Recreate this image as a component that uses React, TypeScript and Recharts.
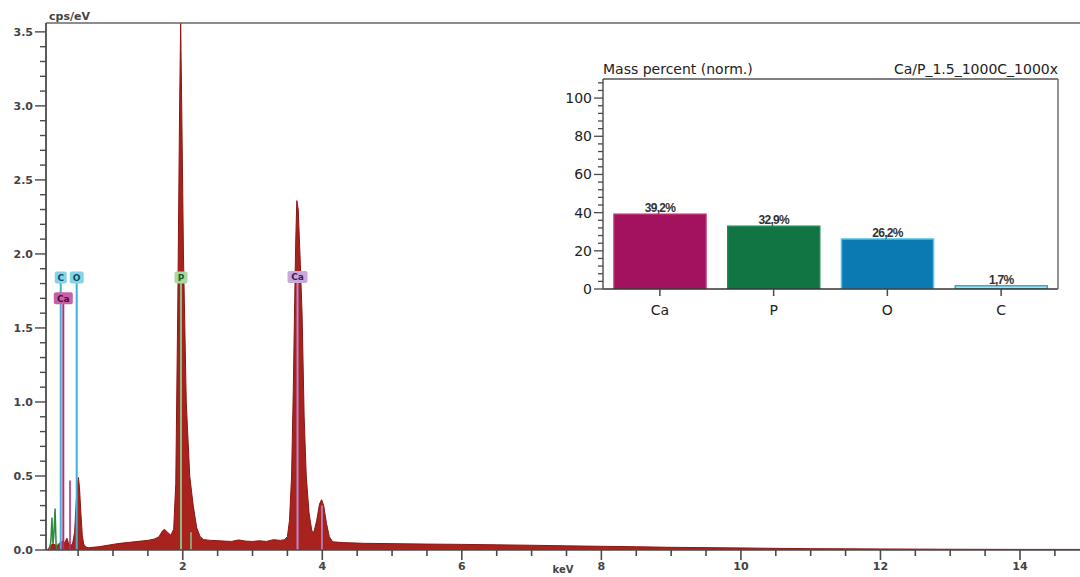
import React from 'react';
import {
  ComposedChart, Area, Line, XAxis, YAxis, ReferenceLine, ReferenceDot,
  BarChart, Bar, LabelList, Cell,
} from 'recharts';

// ---------- EDS spectrum ----------
const ENERGY_KEV = [
  0.05, 0.08, 0.1, 0.14, 0.2, 0.24, 0.28, 0.31, 0.34, 0.36, 0.39, 0.42, 0.45, 0.47, 0.49, 0.505, 0.52, 0.54, 0.56, 0.58,
  0.61, 0.65, 0.7, 0.8, 0.9, 1.0, 1.1, 1.2, 1.3, 1.4, 1.5, 1.6, 1.66, 1.71, 1.74, 1.78, 1.83, 1.87, 1.9, 1.93,
  1.955, 1.97, 1.985, 2.01, 2.05, 2.1, 2.15, 2.2, 2.25, 2.3, 2.4, 2.5, 2.6, 2.7, 2.8, 2.9, 3.0, 3.1, 3.2, 3.3,
  3.4, 3.46, 3.5, 3.53, 3.56, 3.585, 3.605, 3.62, 3.635, 3.655, 3.68, 3.71, 3.74, 3.77, 3.81, 3.85, 3.88, 3.92, 3.96, 3.99,
  4.02, 4.06, 4.1, 4.15, 4.3, 4.6, 5.0, 5.5, 6.0, 6.5, 7.0, 7.5, 8.0, 8.5, 9.0, 9.5, 10.0, 10.5, 11.0, 11.5,
  12.0, 13.0, 14.0, 14.86,
];
const CPS = [
  0, 0.01, 0.03, 0.04, 0.03, 0.05, 0.06, 0.05, 0.08, 0.05, 0.03, 0.04, 0.12, 0.3, 0.45, 0.49, 0.42, 0.25, 0.1, 0.04,
  0.02, 0.015, 0.018, 0.022, 0.03, 0.038, 0.045, 0.05, 0.055, 0.06, 0.065, 0.075, 0.09, 0.13, 0.14, 0.12, 0.1, 0.14, 0.45, 1.7,
  3.0, 3.56, 3.0, 2.0, 1.0, 0.5, 0.3, 0.15, 0.09, 0.07, 0.065, 0.063, 0.06, 0.058, 0.068, 0.06, 0.058, 0.062, 0.058, 0.07,
  0.065, 0.07, 0.09, 0.2, 0.5, 1.1, 1.7, 2.1, 2.36, 2.3, 2.0, 1.6, 0.9, 0.5, 0.25, 0.13, 0.12, 0.2, 0.31, 0.34,
  0.3, 0.18, 0.09, 0.055, 0.05, 0.045, 0.043, 0.04, 0.038, 0.035, 0.032, 0.028, 0.025, 0.022, 0.018, 0.016, 0.014, 0.011, 0.009, 0.008,
  0.007, 0.005, 0.004, 0.004,
];
// low-energy noise spikes (drawn green)
const NOISE_KEV = [0.09, 0.11, 0.125, 0.14, 0.155, 0.17, 0.185, 0.2];
const NOISE_CPS = [0, 0.06, 0.22, 0.04, 0.12, 0.28, 0.03, 0];

// element line markers
const MARKER_LABELS = ['C', 'Ca', 'O', 'P', 'Ca'];
const MARKER_KEV = [0.251, 0.288, 0.48, 1.975, 3.645];
const MARKER_TOP = [1.84, 1.7, 1.84, 1.84, 1.845];
const MARKER_LINE = ['#3fb3d4', '#b0307f', '#3fb3d4', '#86bf86', '#b58ad0'];
const MARKER_BG = ['#86d3e8', '#c860a8', '#86d3e8', '#a9d8a4', '#c9a8dc'];
const MARKER_FG = ['#0d4a60', '#4a0d38', '#0d4a60', '#1d5a1d', '#3a1a55'];
const MARKER_W = [12, 19, 14, 13, 20];
// secondary short lines
const SUB_KEV = [0.384, 2.118, 3.995];
const SUB_TOP = [0.47, 0.12, 0.3];
const SUB_COLOR = ['#b0307f', '#86bf86', '#b58ad0'];

const X_TICKS = [0.5, 1, 1.5, 2, 2.5, 3, 3.5, 4, 4.5, 5, 5.5, 6, 6.5, 7, 7.5, 8, 8.5, 9, 9.5, 10, 10.5, 11, 11.5, 12, 12.5, 13, 13.5, 14, 14.5];
const Y_TICKS = [0, 0.1, 0.2, 0.3, 0.4, 0.5, 0.6, 0.7, 0.8, 0.9, 1.0, 1.1, 1.2, 1.3, 1.4, 1.5, 1.6, 1.7, 1.8, 1.9, 2.0, 2.1, 2.2, 2.3, 2.4, 2.5, 2.6, 2.7, 2.8, 2.9, 3.0, 3.1, 3.2, 3.3, 3.4, 3.5];
const Y_MAX = 3.56;

// ---------- Inset: mass percent ----------
const ELEMENTS = ['Ca', 'P', 'O', 'C'];
const MASS_PERCENT = [39.2, 32.9, 26.2, 1.7];
const BAR_FILL = ['#a3125c', '#107542', '#0b79b2', '#a8e2f0'];
const BAR_STROKE = ['#b8306f', '#1f8a52', '#4cc2e8', '#3aa8d0'];
const INSET_Y_TICKS = [0, 4, 8, 12, 16, 20, 24, 28, 32, 36, 40, 44, 48, 52, 56, 60, 64, 68, 72, 76, 80, 84, 88, 92, 96, 100, 104, 108];
const INSET_MAX = 110;
const INSET_TITLE = 'Mass percent (norm.)';
const INSET_SAMPLE = 'Ca/P_1.5_1000C_1000x';

const spectrum = ENERGY_KEV.map((e, i) => ({ e, cps: CPS[i] }));
const noise = NOISE_KEV.map((e, i) => ({ e, n: NOISE_CPS[i] }));
const massData = ELEMENTS.map((el, i) => ({ el, v: MASS_PERCENT[i] }));

const AX = '#4a4a4a';
const FONT = 'DejaVu Sans';

const XTick = (props: any) => {
  const { x, y, payload } = props;
  const v = payload.value;
  const major = Math.abs(v % 2) < 1e-9;
  return (
    <g>
      <line x1={x} x2={x} y1={y} y2={y + (major ? 10 : 6)} stroke={AX} strokeWidth={1.6} />
      {major && (
        <text x={x} y={y + 20} textAnchor="middle" fontSize={11} fontWeight="bold" fill="#444" fontFamily={FONT}>
          {v}
        </text>
      )}
    </g>
  );
};

const YTick = (props: any) => {
  const { x, y, payload } = props;
  const v = payload.value;
  const major = Math.abs(Math.round(v * 10) % 5) === 0;
  return (
    <g>
      <line x1={x - (major ? 11 : 6)} x2={x} y1={y} y2={y} stroke={AX} strokeWidth={1.4} />
      {major && (
        <text x={x - 13} y={y + 4} textAnchor="end" fontSize={11} fontWeight="bold" fill="#444" fontFamily={FONT}>
          {v.toFixed(1)}
        </text>
      )}
    </g>
  );
};

const InsetYTick = (props: any) => {
  const { x, y, payload } = props;
  const v = payload.value;
  const major = v % 20 === 0;
  return (
    <g>
      <line x1={x - (major ? 9 : 5)} x2={x} y1={y} y2={y} stroke={AX} strokeWidth={1.3} />
      {major && (
        <text x={x - 11} y={y + 5} textAnchor="end" fontSize={14} fill="#222" fontFamily={FONT}>
          {v}
        </text>
      )}
    </g>
  );
};

const InsetXTick = (props: any) => {
  const { x, y, payload } = props;
  return (
    <g>
      <line x1={x} x2={x} y1={y} y2={y + 7} stroke={AX} strokeWidth={1.5} />
      <text x={x} y={y + 26} textAnchor="middle" fontSize={14} fill="#222" fontFamily={FONT}>
        {payload.value}
      </text>
    </g>
  );
};

const makeTag = (label: string, bg: string, fg: string, w: number) => (props: any) => {
  const { cx, cy } = props;
  return (
    <g>
      <rect x={cx - w / 2} y={cy - 6} width={w} height={12} rx={2} fill={bg} />
      <text x={cx} y={cy + 3.5} textAnchor="middle" fontSize={9} fontWeight="bold" fill={fg} fontFamily={FONT}>
        {label}
      </text>
    </g>
  );
};

const BarValueLabel = (props: any) => {
  const { x, y, width, value } = props;
  const txt = Number(value).toFixed(1).replace('.', ',') + '%';
  return (
    <text x={x + width / 2} y={y - 2} textAnchor="middle" fontSize={12} fontWeight="bold" fill="#333"
      fontFamily="Liberation Sans" letterSpacing={-0.7}>
      {txt}
    </text>
  );
};

const TitleLabel = (props: any) => {
  const vb = props.viewBox || { x: 43, y: 24, width: 455, height: 210 };
  return (
    <g>
      <text x={vb.x} y={vb.y - 5} fontSize={14} fill="#222" fontFamily={FONT}>{INSET_TITLE}</text>
      <text x={vb.x + vb.width} y={vb.y - 5} textAnchor="end" fontSize={14} fill="#222" fontFamily={FONT}>
        {INSET_SAMPLE}
      </text>
    </g>
  );
};

const UnitLabel = (props: any) => {
  const vb = props.viewBox || { x: 46, y: 23 };
  return (
    <text x={vb.x + 3} y={vb.y - 3} fontSize={11} fontWeight="bold" fill="#444" fontFamily={FONT}>
      cps/eV
    </text>
  );
};

export default function App() {
  return (
    <div style={{ position: 'absolute', left: 0, top: 0, width: 1080, height: 577, background: '#fff' }}>
      <div style={{ position: 'absolute', left: 0, top: 0 }}>
        <ComposedChart width={1080} height={577} data={spectrum} margin={{ top: 23, right: 0, bottom: 0, left: 0 }}>
          <XAxis
            dataKey="e" type="number" domain={[0.04, 14.86]} allowDataOverflow ticks={X_TICKS} interval={0}
            height={27} tickSize={0} tickMargin={0} tickLine={false} tick={<XTick />}
            axisLine={{ stroke: AX, strokeWidth: 1.6 }}
            label={{ value: 'keV', position: 'insideBottom', offset: 4, fontSize: 10, fontWeight: 'bold', fill: '#444', fontFamily: FONT }}
          />
          <YAxis
            type="number" domain={[0, Y_MAX]} allowDataOverflow ticks={Y_TICKS} interval={0} width={46}
            tickSize={0} tickMargin={0} tickLine={false} tick={<YTick />}
            axisLine={{ stroke: AX, strokeWidth: 1.8 }}
          />
          <ReferenceLine y={Y_MAX} stroke="#666" strokeWidth={1.4} label={<UnitLabel />} />
          <Area dataKey="cps" type="linear" fill="#a8221e" fillOpacity={1} stroke="#8c1612" strokeWidth={1}
            isAnimationActive={false} dot={false} activeDot={false} />
          <Line data={noise} dataKey="n" type="linear" stroke="#2e8a3e" strokeWidth={1.5}
            isAnimationActive={false} dot={false} activeDot={false} />
          {SUB_KEV.map((k, i) => (
            <ReferenceLine key={'s' + i} segment={[{ x: k, y: 0 }, { x: k, y: SUB_TOP[i] }]}
              stroke={SUB_COLOR[i]} strokeWidth={1.6} />
          ))}
          {MARKER_KEV.map((k, i) => (
            <ReferenceLine key={'m' + i} segment={[{ x: k, y: 0 }, { x: k, y: MARKER_TOP[i] }]}
              stroke={MARKER_LINE[i]} strokeWidth={2} />
          ))}
          {MARKER_KEV.map((k, i) => (
            <ReferenceDot key={'t' + i} x={k} y={MARKER_TOP[i]} r={0}
              shape={makeTag(MARKER_LABELS[i], MARKER_BG[i], MARKER_FG[i], MARKER_W[i])} />
          ))}
        </ComposedChart>
      </div>

      <div style={{ position: 'absolute', left: 560, top: 55 }}>
        <BarChart width={505} height={265} data={massData} margin={{ top: 24, right: 6, bottom: 0, left: 0 }}>
          <XAxis dataKey="el" height={31} tickSize={0} tickMargin={0} tickLine={false} tick={<InsetXTick />}
            interval={0} axisLine={{ stroke: '#333', strokeWidth: 1.5 }} />
          <YAxis type="number" domain={[0, INSET_MAX]} allowDataOverflow ticks={INSET_Y_TICKS} interval={0} width={43}
            tickSize={0} tickMargin={0} tickLine={false} tick={<InsetYTick />}
            axisLine={{ stroke: '#555', strokeWidth: 1.5 }} />
          <YAxis yAxisId="right" orientation="right" type="number" domain={[0, INSET_MAX]} width={1}
            tick={false} tickLine={false} axisLine={{ stroke: '#777', strokeWidth: 1.6 }} />
          <ReferenceLine y={INSET_MAX} stroke="#555" strokeWidth={1.6} label={<TitleLabel />} />
          <Bar dataKey="v" barSize={92} isAnimationActive={false}>
            {massData.map((d, i) => (
              <Cell key={d.el} fill={BAR_FILL[i]} stroke={BAR_STROKE[i]} strokeWidth={1.5} />
            ))}
            <LabelList dataKey="v" content={<BarValueLabel />} />
          </Bar>
        </BarChart>
      </div>
    </div>
  );
}
